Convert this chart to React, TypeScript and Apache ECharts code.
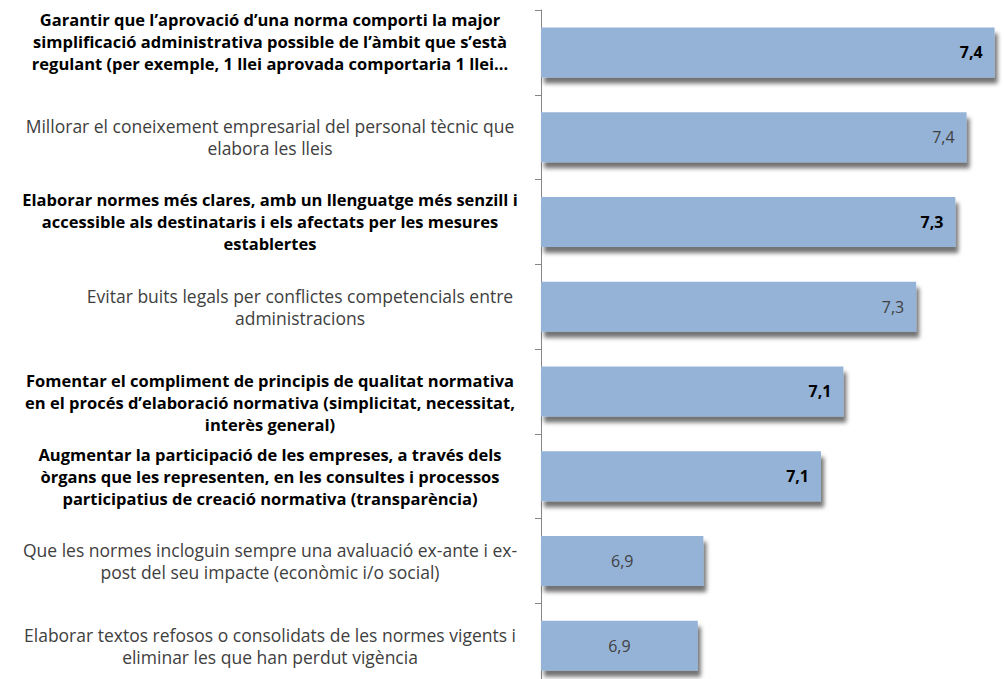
import React, { useEffect, useRef } from "react";
import * as echarts from "echarts";

const categories: string[] = [
  "Garantir que l’aprovació d’una norma comporti la major\nsimplificació administrativa possible de l’àmbit que s’està\nregulant (per exemple, 1 llei aprovada comportaria 1 llei...",
  "Millorar el coneixement empresarial del personal tècnic que\nelabora les lleis",
  "Elaborar normes més clares, amb un llenguatge més senzill i\naccessible als destinataris i els afectats per les mesures\nestablertes",
  "Evitar buits legals per conflictes competencials entre\nadministracions",
  "Fomentar el compliment de principis de qualitat normativa\nen el procés d’elaboració normativa (simplicitat, necessitat,\ninterès general)",
  "Augmentar la participació de les empreses, a través dels\nòrgans que les representen, en les consultes i processos\nparticipatius de creació normativa (transparència)",
  "Que les normes incloguin sempre una avaluació ex-ante i ex-\npost del seu impacte (econòmic i/o social)",
  "Elaborar textos refosos o consolidats de les normes vigents i\neliminar les que han perdut vigència",
];
const values: number[] = [7.41, 7.36, 7.34, 7.27, 7.14, 7.1, 6.89, 6.88];
const boldRows: boolean[] = [true, false, true, false, true, true, false, false];
const centeredLabel: boolean[] = [false, false, false, false, false, false, true, true];

// style-only: per-row label nudges to mimic the original label placement
const labelPadLeft: number[] = [0, 0, 0, 60, 0, 0, 0, 0];
const labelNudge: number[] = [-1, 0, 0, 0, 1, 0, 0, 0]; // -1 up half a line, 1 down half a line

export default function App() {
  const ref = useRef<HTMLDivElement>(null);
  useEffect(() => {
    if (!ref.current) return;
    const chart = echarts.init(ref.current, null, { renderer: "svg" });
    const font = "'Open Sans', 'Noto Sans', sans-serif";
    chart.setOption({
      animation: false,
      backgroundColor: "#ffffff",
      grid: {
        left: 541,
        top: 10,
        width: 504,
        height: 678,
        containLabel: false,
        outerBoundsMode: "none",
      },
      xAxis: {
        type: "value",
        min: 6.6,
        max: 7.5,
        show: false,
      },
      yAxis: {
        type: "category",
        inverse: true,
        data: categories.map((c, i) => ({
          value: c,
          textStyle: {
            fontWeight: boldRows[i] ? "bold" : "normal",
            color: boldRows[i] ? "#000000" : "#404040",
            fontSize: boldRows[i] ? 16.5 : 17.5,
            align: "center",
            padding: [0, 0, 0, labelPadLeft[i]],
          },
        })),
        axisLine: { show: true, lineStyle: { color: "#868686", width: 1 } },
        axisTick: { show: true, length: 6, lineStyle: { color: "#868686" } },
        axisLabel: {
          align: "center",
          margin: 271,
          fontFamily: font,
          fontSize: 16,
          lineHeight: 22,
          formatter: (v: string, i: number) =>
            labelNudge[i] < 0 ? v + "\n " : labelNudge[i] > 0 ? " \n" + v : v,
        },
        splitLine: { show: false },
      },
      series: [
        {
          type: "bar",
          barWidth: 50,
          data: values.map((v, i) => ({
            value: v,
            label: {
              position: centeredLabel[i] ? "inside" : "insideRight",
              fontWeight: boldRows[i] ? "bold" : "normal",
              color: boldRows[i] ? "#000000" : "#404040",
            },
          })),
          itemStyle: {
            color: "#95B3D7",
            shadowColor: "rgba(0,0,0,0.55)",
            shadowBlur: 4,
            shadowOffsetX: 3,
            shadowOffsetY: 6,
          },
          label: {
            show: true,
            distance: 12,
            fontFamily: font,
            fontSize: 16,
            formatter: (p: any) => p.value.toFixed(1).replace(".", ","),
          },
        },
      ],
    });
    return () => chart.dispose();
  }, []);
  return (
    <div
      ref={ref}
      style={{ position: "fixed", left: 0, top: 0, width: 1004, height: 679 }}
    />
  );
}
